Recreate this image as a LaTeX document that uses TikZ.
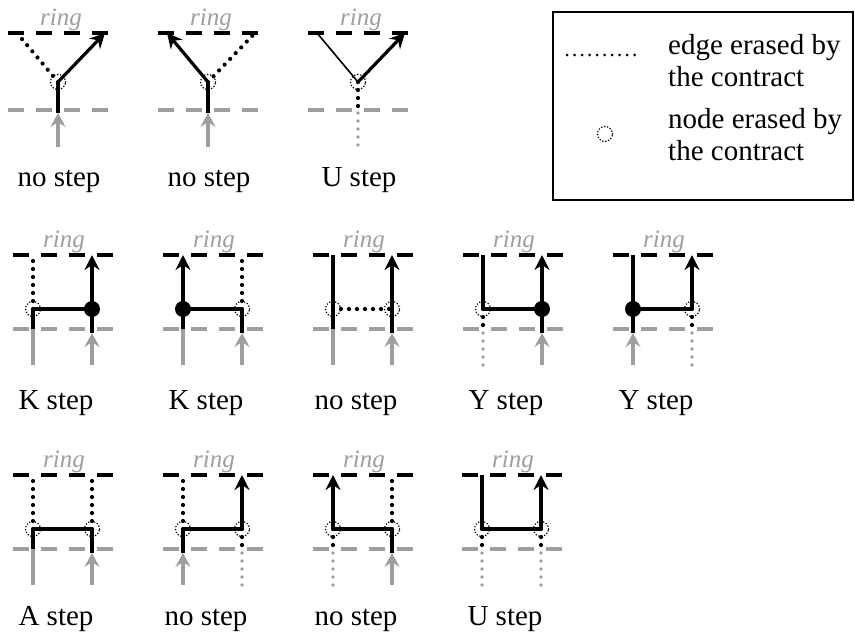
\documentclass[tikz,border=0pt]{standalone}
\usepackage{fontspec}
\setmainfont{Liberation Serif}
\usetikzlibrary{arrows.meta}
\definecolor{gr}{RGB}{158,158,158}
\tikzset{
 ringblack/.style={line width=4pt, dash pattern=on 16pt off 12pt},
 ringgray/.style={ringblack, draw=gr},
 solidline/.style={line width=3.2pt},
 thinline/.style={line width=1.6pt},
 arr/.style={line width=3.2pt, -{Stealth[length=15pt,width=15pt,inset=5pt]}},
 grayarr/.style={line width=3.4pt, draw=gr, -{Stealth[length=14pt,width=15pt,inset=5pt]}},
 grayline/.style={line width=3.4pt, draw=gr},
 erased/.style={line width=4.2pt, line cap=round, dash pattern=on 0pt off 8pt},
 grayerased/.style={erased, line width=3.9pt, draw=gr},
 legenddots/.style={line width=3pt, line cap=round, dash pattern=on 0pt off 7.5pt},
 erasednode/.style={circle, draw, minimum size=15pt, inner sep=0pt, line width=1.7pt, dash pattern=on 0pt off 3pt, line cap=round},
 keptnode/.style={circle, fill, minimum size=16pt, inner sep=0pt},
 steplabel/.style={font=\fontsize{29}{33}\selectfont, anchor=base, inner sep=0pt},
 ringlabel/.style={font=\fontsize{25}{28}\selectfont\itshape, text=gr, anchor=base, inner sep=0pt},
 legendtext/.style={font=\fontsize{29}{32}\selectfont, align=left, anchor=north west, inner sep=0pt},
}
\newcommand{\mkpanel}[1]{%
 \coordinate (#1tl) at (0,0); \coordinate (#1tr) at (100,0);
 \coordinate (#1gl) at (0,74); \coordinate (#1gr) at (100,74);
 \coordinate (#1ta) at (20,0); \coordinate (#1tb) at (79,0);
 \coordinate (#1a) at (20,54); \coordinate (#1b) at (79,54);
 \coordinate (#1ga) at (20,74); \coordinate (#1gb) at (79,74);
 \coordinate (#1ea) at (20,78); \coordinate (#1eb) at (79,78);
 \coordinate (#1ba) at (20,110); \coordinate (#1bb) at (79,110);
 \draw[ringblack] (#1tl) -- (#1tr);
 \draw[ringgray] (#1gl) -- (#1gr);
 \node[ringlabel] (#1ring) at (51,-8) {ring};
}
\newcommand{\mkypanel}[1]{%
 \coordinate (#1tl) at (0,0); \coordinate (#1tr) at (100,0);
 \coordinate (#1gl) at (0,77); \coordinate (#1gr) at (100,77);
 \coordinate (#1l) at (9,0); \coordinate (#1r) at (97,0);
 \coordinate (#1n) at (50,49); \coordinate (#1g) at (50,77);
 \coordinate (#1e) at (50,80); \coordinate (#1bot) at (50,114);
 \draw[ringblack] (#1tl) -- (#1tr);
 \draw[ringgray] (#1gl) -- (#1gr);
 \node[ringlabel] (#1ring) at (53,-8) {ring};
}
\begin{document}
\begin{tikzpicture}[x=1pt,y=-1pt]
\useasboundingbox (0,0) rectangle (855,637);

% ---------- row 1 ----------
\begin{scope}[shift={(8,33)}]
 \mkypanel{oa}
 \draw[erased] (oan) -- (oal);
 \draw[arr] (oan) -- (oar);
 \draw[solidline] (oan) -- (oae);
 \draw[grayarr] (oabot) -- (oae);
 \node[erasednode] (oanode) at (oan) {};
 \node[steplabel] (oalab) at (51,153) {no step};
\end{scope}
\begin{scope}[shift={(158,33)}]
 \mkypanel{ob}
 \draw[arr] (obn) -- (obl);
 \draw[erased] (obn) -- (obr);
 \draw[solidline] (obn) -- (obe);
 \draw[grayarr] (obbot) -- (obe);
 \node[erasednode] (obnode) at (obn) {};
 \node[steplabel] (oblab) at (51,153) {no step};
\end{scope}
\begin{scope}[shift={(308,33)}]
 \mkypanel{oc}
 \draw[thinline] (ocl) -- (ocn);
 \draw[arr] (ocn) -- (ocr);
 \draw[erased] (ocn) -- (ocg);
 \draw[grayerased] (oce) -- (ocbot);
 \node[erasednode] (ocnode) at (ocn) {};
 \node[steplabel] (oclab) at (51,153) {U step};
\end{scope}

% ---------- legend ----------
\node[draw, line width=1.5pt, minimum width=300pt, minimum height=188pt, anchor=north west, inner sep=0pt] (legend) at (552,11) {};
\coordinate (ld1) at (567,55);
\coordinate (ld2) at (642,55);
\draw[legenddots] (ld1) -- (ld2);
\node[legendtext] (ledge) at (668,34) {edge erased by\\the contract};
\node[erasednode] (lnode) at (605,134) {};
\node[legendtext] (lnodet) at (668,108) {node erased by\\the contract};

% ---------- row 2 ----------
\begin{scope}[shift={(13,255)}]
 \mkpanel{ka}
 \draw[erased] (kaa) -- (kata);
 \draw[solidline] (kaa) -- (kab);
 \draw[arr] (kab) -- (katb);
 \draw[solidline] (kaa) -- (kaga);
 \draw[grayline] (kaga) -- (kaba);
 \draw[solidline] (kab) -- (kaeb);
 \draw[grayarr] (kabb) -- (kaeb);
 \node[erasednode] (kaan) at (kaa) {};
 \node[keptnode] (kabn) at (kab) {};
 \node[steplabel] (kalab) at (43,154) {K step};
\end{scope}
\begin{scope}[shift={(163,255)}]
 \mkpanel{kb}
 \draw[arr] (kba) -- (kbta);
 \draw[erased] (kbb) -- (kbtb);
 \draw[solidline] (kba) -- (kbb);
 \draw[solidline] (kba) -- (kbga);
 \draw[grayline] (kbga) -- (kbba);
 \draw[solidline] (kbb) -- (kbeb);
 \draw[grayarr] (kbbb) -- (kbeb);
 \node[keptnode] (kban) at (kba) {};
 \node[erasednode] (kbbn) at (kbb) {};
 \node[steplabel] (kblab) at (43,154) {K step};
\end{scope}
\begin{scope}[shift={(313,255)}]
 \mkpanel{na}
 \draw[solidline] (nata) -- (naga);
 \draw[grayline] (naga) -- (naba);
 \draw[erased] (naa) -- (nab);
 \draw[arr] (nab) -- (natb);
 \draw[solidline] (nab) -- (naeb);
 \draw[grayarr] (nabb) -- (naeb);
 \node[erasednode] (naan) at (naa) {};
 \node[erasednode] (nabn) at (nab) {};
 \node[steplabel] (nalab) at (43,154) {no step};
\end{scope}
\begin{scope}[shift={(463,255)}]
 \mkpanel{ya}
 \draw[solidline] (yata) -- (yaa);
 \draw[solidline] (yaa) -- (yab);
 \draw[erased] (yaa) -- (yaga);
 \draw[grayerased] (yaea) -- (yaba);
 \draw[arr] (yab) -- (yatb);
 \draw[solidline] (yab) -- (yaeb);
 \draw[grayarr] (yabb) -- (yaeb);
 \node[erasednode] (yaan) at (yaa) {};
 \node[keptnode] (yabn) at (yab) {};
 \node[steplabel] (yalab) at (43,154) {Y step};
\end{scope}
\begin{scope}[shift={(613,255)}]
 \mkpanel{yb}
 \draw[solidline] (ybta) -- (yba);
 \draw[solidline] (yba) -- (ybb);
 \draw[solidline] (yba) -- (ybea);
 \draw[grayarr] (ybba) -- (ybea);
 \draw[arr] (ybb) -- (ybtb);
 \draw[erased] (ybb) -- (ybgb);
 \draw[grayerased] (ybeb) -- (ybbb);
 \node[keptnode] (yban) at (yba) {};
 \node[erasednode] (ybbn) at (ybb) {};
 \node[steplabel] (yblab) at (43,154) {Y step};
\end{scope}

% ---------- row 3 ----------
\begin{scope}[shift={(13,475)}]
 \mkpanel{aa}
 \draw[erased] (aaa) -- (aata);
 \draw[erased] (aab) -- (aatb);
 \draw[solidline] (aaa) -- (aab);
 \draw[solidline] (aaa) -- (aaga);
 \draw[grayline] (aaga) -- (aaba);
 \draw[solidline] (aab) -- (aaeb);
 \draw[grayarr] (aabb) -- (aaeb);
 \node[erasednode] (aaan) at (aaa) {};
 \node[erasednode] (aabn) at (aab) {};
 \node[steplabel] (aalab) at (43,150) {A step};
\end{scope}
\begin{scope}[shift={(163,475)}]
 \mkpanel{nb}
 \draw[erased] (nba) -- (nbta);
 \draw[solidline] (nba) -- (nbb);
 \draw[arr] (nbb) -- (nbtb);
 \draw[solidline] (nba) -- (nbea);
 \draw[grayarr] (nbba) -- (nbea);
 \draw[erased] (nbb) -- (nbgb);
 \draw[grayerased] (nbeb) -- (nbbb);
 \node[erasednode] (nban) at (nba) {};
 \node[erasednode] (nbbn) at (nbb) {};
 \node[steplabel] (nblab) at (43,150) {no step};
\end{scope}
\begin{scope}[shift={(313,475)}]
 \mkpanel{nc}
 \draw[arr] (nca) -- (ncta);
 \draw[erased] (ncb) -- (nctb);
 \draw[solidline] (nca) -- (ncb);
 \draw[erased] (nca) -- (ncga);
 \draw[grayerased] (ncea) -- (ncba);
 \draw[solidline] (ncb) -- (nceb);
 \draw[grayarr] (ncbb) -- (nceb);
 \node[erasednode] (ncan) at (nca) {};
 \node[erasednode] (ncbn) at (ncb) {};
 \node[steplabel] (nclab) at (43,150) {no step};
\end{scope}
\begin{scope}[shift={(462,475)}]
 \mkpanel{ub}
 \draw[solidline] (ubta) -- (uba);
 \draw[solidline] (uba) -- (ubb);
 \draw[arr] (ubb) -- (ubtb);
 \draw[erased] (uba) -- (ubga);
 \draw[grayerased] (ubea) -- (ubba);
 \draw[erased] (ubb) -- (ubgb);
 \draw[grayerased] (ubeb) -- (ubbb);
 \node[erasednode] (uban) at (uba) {};
 \node[erasednode] (ubbn) at (ubb) {};
 \node[steplabel] (ublab) at (43,150) {U step};
\end{scope}
\end{tikzpicture}
\end{document}
